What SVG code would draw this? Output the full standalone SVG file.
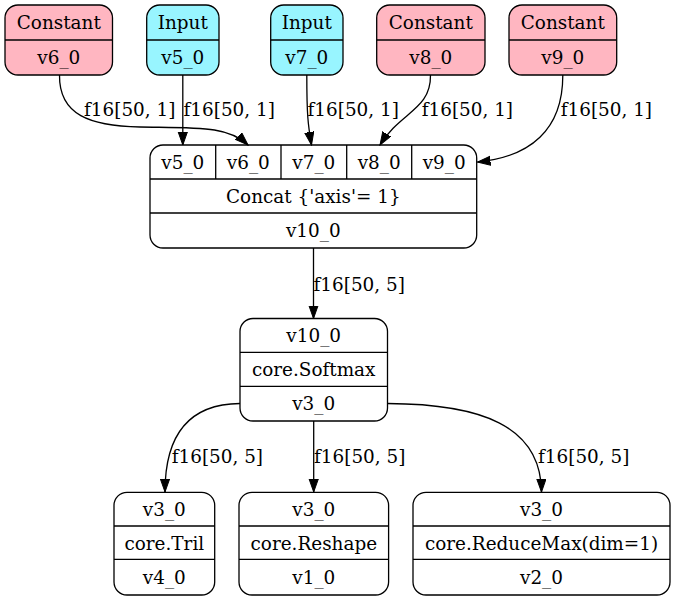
<svg xmlns="http://www.w3.org/2000/svg" width="676" height="601" viewBox="0 0 676 601">
<style>
text{font-family:"DejaVu Serif","Liberation Serif",serif;font-size:18.4px;fill:#000}
.c{text-anchor:middle}
.box{stroke:#000;stroke-width:1.3;fill:#fff}
.pink{fill:#ffb6c1}
.cyan{fill:#98f5ff}
.div{stroke:#000;stroke-width:1.3}
.e{fill:none;stroke:#000;stroke-width:1.3;marker-end:url(#ah)}
</style>
<defs>
<marker id="ah" markerWidth="14" markerHeight="11" refX="13" refY="5" orient="auto" markerUnits="userSpaceOnUse">
<path d="M0,0.4 L13,5 L0,9.6 z" fill="#000" stroke="#000" stroke-width="1"/>
</marker>
</defs>
<g id="v6_0">
<rect class="box pink" x="5" y="5" width="107.5" height="70" rx="13"/>
<line class="div" x1="5" y1="40" x2="112.5" y2="40"/>
<text class="c" x="58.8" y="29">Constant</text>
<text class="c" x="58.8" y="64">v6_0</text>
</g>
<g id="v5_0">
<rect class="box cyan" x="146.7" y="5" width="72.3" height="70" rx="13"/>
<line class="div" x1="146.7" y1="40" x2="219" y2="40"/>
<text class="c" x="182.8" y="29">Input</text>
<text class="c" x="182.8" y="64">v5_0</text>
</g>
<g id="v7_0">
<rect class="box cyan" x="270.7" y="5" width="72.3" height="70" rx="13"/>
<line class="div" x1="270.7" y1="40" x2="343" y2="40"/>
<text class="c" x="306.8" y="29">Input</text>
<text class="c" x="306.8" y="64">v7_0</text>
</g>
<g id="v8_0">
<rect class="box pink" x="376.7" y="5" width="108.3" height="70" rx="13"/>
<line class="div" x1="376.7" y1="40" x2="485" y2="40"/>
<text class="c" x="430.8" y="29">Constant</text>
<text class="c" x="430.8" y="64">v8_0</text>
</g>
<g id="v9_0">
<rect class="box pink" x="509" y="5" width="107.7" height="70" rx="13"/>
<line class="div" x1="509" y1="40" x2="616.7" y2="40"/>
<text class="c" x="562.8" y="29">Constant</text>
<text class="c" x="562.8" y="64">v9_0</text>
</g>
<g id="concat">
<rect class="box" x="150" y="145" width="326.7" height="103" rx="13"/>
<line class="div" x1="150" y1="179" x2="476.7" y2="179"/>
<line class="div" x1="150" y1="213" x2="476.7" y2="213"/>
<line class="div" x1="215.7" y1="145" x2="215.7" y2="179"/>
<line class="div" x1="281" y1="145" x2="281" y2="179"/>
<line class="div" x1="346.7" y1="145" x2="346.7" y2="179"/>
<line class="div" x1="411.7" y1="145" x2="411.7" y2="179"/>
<text class="c" x="182.8" y="168.5">v5_0</text>
<text class="c" x="248.3" y="168.5">v6_0</text>
<text class="c" x="313.8" y="168.5">v7_0</text>
<text class="c" x="379.2" y="168.5">v8_0</text>
<text class="c" x="444.2" y="168.5">v9_0</text>
<text class="c" x="313.3" y="202.5">Concat {'axis'= 1}</text>
<text class="c" x="313.3" y="237">v10_0</text>
</g>
<g id="softmax">
<rect class="box" x="240" y="318.5" width="147.5" height="102.5" rx="13"/>
<line class="div" x1="240" y1="352.3" x2="387.5" y2="352.3"/>
<line class="div" x1="240" y1="386.3" x2="387.5" y2="386.3"/>
<text class="c" x="313.7" y="342">v10_0</text>
<text class="c" x="313.7" y="376">core.Softmax</text>
<text class="c" x="313.7" y="410">v3_0</text>
</g>
<g id="tril">
<rect class="box" x="114" y="492.3" width="100.7" height="102.7" rx="13"/>
<line class="div" x1="114" y1="526" x2="214.7" y2="526"/>
<line class="div" x1="114" y1="559.3" x2="214.7" y2="559.3"/>
<text class="c" x="164.3" y="516">v3_0</text>
<text class="c" x="164.3" y="549.5">core.Tril</text>
<text class="c" x="164.3" y="583.5">v4_0</text>
</g>
<g id="reshape">
<rect class="box" x="239" y="492.3" width="149.6" height="102.7" rx="13"/>
<line class="div" x1="239" y1="526" x2="388.6" y2="526"/>
<line class="div" x1="239" y1="559.3" x2="388.6" y2="559.3"/>
<text class="c" x="313.8" y="516">v3_0</text>
<text class="c" x="313.8" y="549.5">core.Reshape</text>
<text class="c" x="313.8" y="583.5">v1_0</text>
</g>
<g id="reducemax">
<rect class="box" x="413" y="492.3" width="257" height="102.7" rx="13"/>
<line class="div" x1="413" y1="526" x2="670" y2="526"/>
<line class="div" x1="413" y1="559.3" x2="670" y2="559.3"/>
<text class="c" x="541.5" y="516">v3_0</text>
<text class="c" x="541.5" y="549.5">core.ReduceMax(dim=1)</text>
<text class="c" x="541.5" y="583.5">v2_0</text>
</g>
<g id="edges">
<path class="e" d="M59.5,75 C59,115 90,126 140,127 C200,128 228,126 248,145"/>
<path class="e" d="M182.8,75 L182.8,145"/>
<path class="e" d="M306.8,75 C306.8,115 308,125 311.5,145"/>
<path class="e" d="M430.5,75 C431,110 400,112 380,145"/>
<path class="e" d="M562.8,75 C563,130 530,157 477.5,162"/>
<path class="e" d="M313.5,248 L313.5,318.5"/>
<path class="e" d="M240,403.5 C185,404 165,440 165,492"/>
<path class="e" d="M313.7,421 L313.7,492"/>
<path class="e" d="M387.5,403.5 C480,404 541,425 541.5,492"/>
<text x="84" y="116">f16[50, 1]</text>
<text x="183.5" y="116">f16[50, 1]</text>
<text x="307.5" y="116">f16[50, 1]</text>
<text x="421.7" y="116">f16[50, 1]</text>
<text x="560.7" y="116">f16[50, 1]</text>
<text x="313.5" y="291">f16[50, 5]</text>
<text x="171.7" y="463">f16[50, 5]</text>
<text x="314" y="463">f16[50, 5]</text>
<text x="538" y="463">f16[50, 5]</text>
</g>
</svg>
